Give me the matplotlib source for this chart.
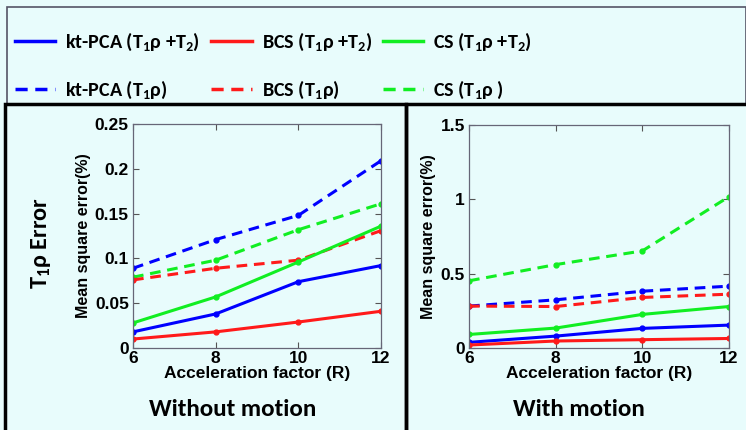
import matplotlib
matplotlib.use("Agg")
import matplotlib.pyplot as plt
from matplotlib.lines import Line2D
from matplotlib.patches import Rectangle

plt.rcParams['mathtext.fontset'] = 'custom'
plt.rcParams['mathtext.rm'] = 'Carlito:bold'
plt.rcParams['mathtext.default'] = 'rm'

R = [6, 8, 10, 12]

# without motion
kt_both_nm = [0.018, 0.038, 0.074, 0.092]
bcs_both_nm = [0.010, 0.018, 0.029, 0.041]
cs_both_nm = [0.028, 0.057, 0.096, 0.136]
kt_t1_nm = [0.089, 0.121, 0.148, 0.209]
bcs_t1_nm = [0.076, 0.089, 0.098, 0.131]
cs_t1_nm = [0.079, 0.098, 0.132, 0.161]

# with motion
kt_both_m = [0.038, 0.080, 0.132, 0.154]
bcs_both_m = [0.020, 0.047, 0.056, 0.064]
cs_both_m = [0.091, 0.134, 0.226, 0.279]
kt_t1_m = [0.282, 0.324, 0.382, 0.416]
bcs_t1_m = [0.282, 0.279, 0.340, 0.362]
cs_t1_m = [0.452, 0.561, 0.653, 1.018]

labels = ['kt-PCA (T$_1$ρ +T$_2$)', 'kt-PCA (T$_1$ρ)',
          'BCS (T$_1$ρ +T$_2$)', 'BCS (T$_1$ρ)',
          'CS (T$_1$ρ +T$_2$)', 'CS (T$_1$ρ )']

bg = '#E8FCFC'
blue = '#0000FF'
red = '#FF1A1A'
green = '#11EE22'
dash = (0, (3.5, 2.2))

fig = plt.figure(figsize=(7.46, 4.30), dpi=100, facecolor=bg)

# frames
fig.patches.append(Rectangle((7/746, 1-104/430), 739/746, 97/430, transform=fig.transFigure,
                             fill=False, edgecolor='#555566', lw=1.2))
fig.patches.append(Rectangle((5/746, -0.01), 401/746, 1-104/430+0.01, transform=fig.transFigure,
                             fill=False, edgecolor='black', lw=2.5))
fig.patches.append(Rectangle((406/746, -0.01), 345/746, 1-104/430+0.01, transform=fig.transFigure,
                             fill=False, edgecolor='black', lw=2.5))

ax1 = fig.add_axes([133/746, 1-348/430, 248/746, 224/430])
ax2 = fig.add_axes([469/746, 1-348/430, 260/746, 223/430])

tick_font = dict(family='Liberation Sans', weight='bold')
big_font = dict(family='Carlito', weight='bold')

def draw(ax, data, ylim, yticks, ylabels):
    kt_b, bcs_b, cs_b, kt_t, bcs_t, cs_t = data
    ax.set_facecolor(bg)
    kw = dict(marker='o', ms=3.5, lw=2.2)
    ax.plot(R, kt_t, color=blue, ls=dash, **kw)
    ax.plot(R, cs_t, color=green, ls=dash, **kw)
    ax.plot(R, bcs_t, color=red, ls=dash, **kw)
    ax.plot(R, cs_b, color=green, **kw)
    ax.plot(R, kt_b, color=blue, **kw)
    ax.plot(R, bcs_b, color=red, **kw)
    ax.set_xlim(6, 12)
    ax.set_ylim(*ylim)
    ax.set_xticks(R)
    ax.set_xticklabels([str(r) for r in R], fontsize=12.5, **tick_font)
    ax.set_yticks(yticks)
    ax.set_yticklabels(ylabels, fontsize=12.5, **tick_font)
    ax.tick_params(direction='in', top=True, right=True, length=4, width=0.8,
                   color='#555555', pad=3)
    ax.tick_params(axis='x', pad=2)
    for s in ax.spines.values():
        s.set_color('#666677')
        s.set_linewidth(0.9)
    ax.set_xlabel('Acceleration factor (R)', fontsize=12.5, labelpad=0, **tick_font)
    ax.set_ylabel('Mean square error(%)', fontsize=11.5, labelpad=3, **tick_font)

draw(ax1, [kt_both_nm, bcs_both_nm, cs_both_nm, kt_t1_nm, bcs_t1_nm, cs_t1_nm],
     (0, 0.25), [0, 0.05, 0.1, 0.15, 0.2, 0.25], ['0', '0.05', '0.1', '0.15', '0.2', '0.25'])
draw(ax2, [kt_both_m, bcs_both_m, cs_both_m, kt_t1_m, bcs_t1_m, cs_t1_m],
     (0, 1.5), [0, 0.5, 1, 1.5], ['0', '0.5', '1', '1.5'])

fig.text(41/746, 1-243/430, 'T$_1$ρ Error', rotation=90, ha='center', va='center',
         fontsize=17.5, **big_font)
fig.text(233/746, 1-410/430, 'Without motion', ha='center', va='center',
         fontsize=18, **big_font)
fig.text(579/746, 1-410/430, 'With motion', ha='center', va='center',
         fontsize=18, **big_font)

colors = [blue, blue, red, red, green, green]
styles = ['-', dash, '-', dash, '-', dash]
handles = [Line2D([], [], color=c, ls=s, lw=2.5) for c, s in zip(colors, styles)]
fig.legend(handles, labels, ncol=3, loc='center left', bbox_to_anchor=(15/746, 1-66/430),
           frameon=False, borderpad=0, borderaxespad=0, handlelength=2.0, handletextpad=0.5,
           columnspacing=0.55, labelspacing=1.3,
           prop=dict(family='Carlito', weight='bold', size=14.5))

fig.savefig('out.png', dpi=100, facecolor=bg)
